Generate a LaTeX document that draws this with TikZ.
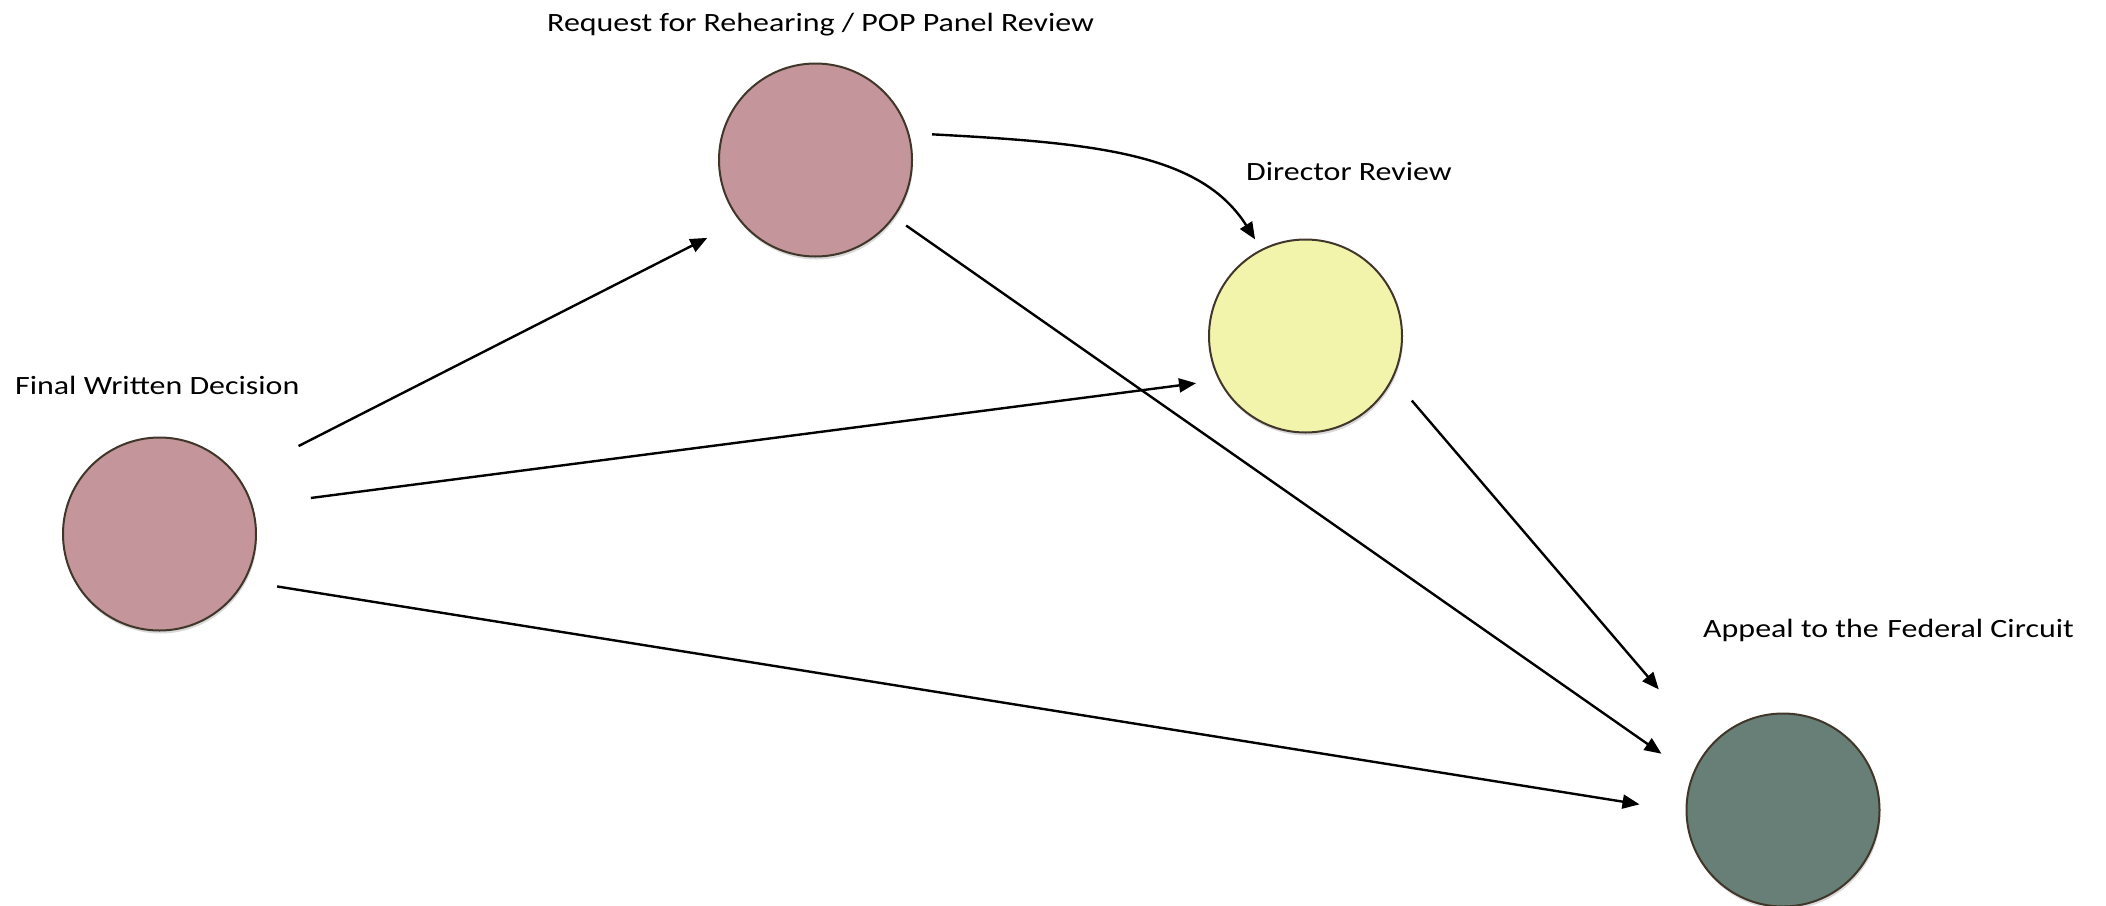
\documentclass[tikz,border=0pt]{standalone}
\usepackage{fontspec}
\setmainfont{Carlito}
\newfontfamily\labfont[FakeStretch=1.21]{Carlito}
\usetikzlibrary{arrows.meta,shadows}
\definecolor{pinkc}{RGB}{196,149,155}
\definecolor{yellowc}{RGB}{243,244,172}
\definecolor{greenc}{RGB}{103,127,119}
\definecolor{rimc}{RGB}{64,54,42}
\begin{document}
\begin{tikzpicture}[x=1pt,y=-1pt,
  stage/.style={circle, draw=rimc, line width=2pt, minimum size=193pt, inner sep=0pt,
    drop shadow={shadow xshift=1pt, shadow yshift=-3pt, opacity=0.15, fill=black}},
  lab/.style={anchor=base west, inner sep=0pt, font=\labfont\fontsize{26.4pt}{32pt}\selectfont},
  arr/.style={line width=2.4pt, -{Triangle[length=17pt,width=14pt]}}]
\useasboundingbox (0,0) rectangle (2106,905);
\node[stage, fill=pinkc] (fwd) at (159.5,534) {};
\node[stage, fill=pinkc] (reh) at (815.5,160) {};
\node[stage, fill=yellowc] (dir) at (1305.5,336) {};
\node[stage, fill=greenc] (app) at (1783,810) {};
\node[lab] (fwdlab) at (15,394) {Final Written Decision};
\node[lab] (rehlab) at (547,31) {Request for Rehearing / POP Panel Review};
\node[lab] (dirlab) at (1246,180) {Director Review};
\node[lab] (applab) at (1703,637) {Appeal to the\hspace{0.05em} Federal Circuit};
\draw[arr, shorten <=67.6pt, shorten >=36.4pt] (fwd.36.3) -- (reh.219.4);
\draw[arr, shorten <=58.6pt, shorten >=22.8pt] (fwd.17.8) -- (dir.207.7);
\draw[arr, shorten <=32.7pt, shorten >=46.6pt] (fwd.331.5) -- (app.181.1);
\draw[arr, shorten <=14.3pt, shorten >=37.2pt] (reh.324.9) -- (app.159.1);
\draw[arr, shorten <=28.7pt, shorten >=76.2pt] (dir.334.2) -- (app.140.2);
\draw[arr, shorten <=23pt, shorten >=11.5pt] (reh.16) .. controls +(190pt,-10pt) and +(-60pt,95pt) .. (dir.117.3);
\end{tikzpicture}
\end{document}
